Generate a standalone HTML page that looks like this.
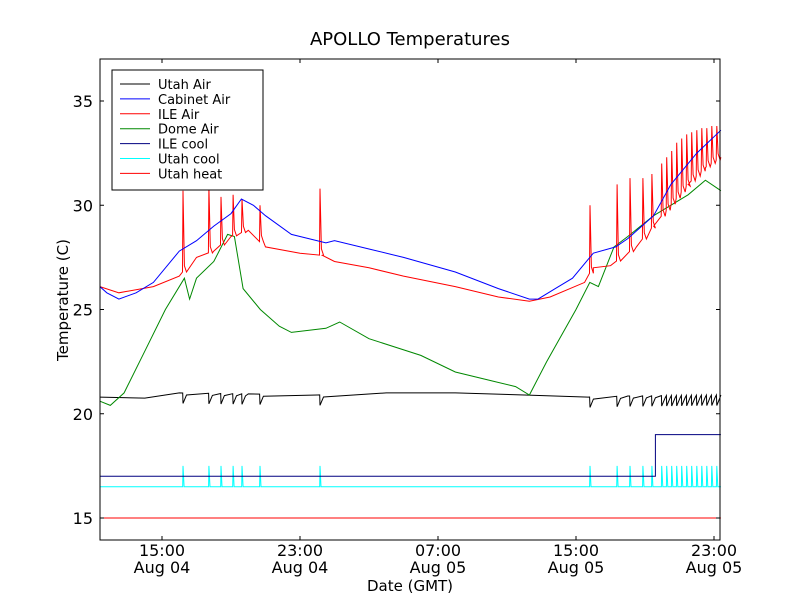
<!DOCTYPE html>
<html><head><meta charset="utf-8"><style>
body{margin:0;background:#fff;font-family:"Liberation Sans","DejaVu Sans",sans-serif}
svg text{font-family:"DejaVu Sans","Liberation Sans",sans-serif}
</style></head><body>
<svg id="c" width="800" height="600" xmlns="http://www.w3.org/2000/svg">
<rect width="800" height="600" fill="#fff"/>
<text x="410" y="45" font-size="18" text-anchor="middle">APOLLO Temperatures</text>
<g id="plot"></g>
<rect x="100" y="59" width="620" height="481" fill="none" stroke="#000"/>
<text x="410" y="591" font-size="15" text-anchor="middle">Date (GMT)</text>
<text transform="translate(68,300) rotate(-90)" font-size="15" text-anchor="middle">Temperature (C)</text>
<g id="legend"></g>
</svg>
<script>
const seriesNames=["Utah Air","Cabinet Air","ILE Air","Dome Air","ILE cool","Utah cool","Utah heat"];
const seriesColors=["#000","#00f","#f00","#080","#000080","#0ff","#f00"];
const yTicks=[15,20,25,30,35];
const xTickHours=[15,23,31,39,47];
const xTickLabels=[["15:00","Aug 04"],["23:00","Aug 04"],["07:00","Aug 05"],["15:00","Aug 05"],["23:00","Aug 05"]];
const cabinetT=[11.4,11.8,12.5,13.5,14.5,16,17,18,19,19.6,20.3,21,22.5,24.5,25,27,29,32,34.5,36.3,36.8,37.8,38.8,40,41.3,42,43.5,44.5,46,47.4];
const cabinetV=[26.1,25.8,25.5,25.8,26.3,27.8,28.3,29,29.6,30.3,30,29.5,28.6,28.2,28.3,27.9,27.5,26.8,26,25.5,25.5,26,26.5,27.7,28,28.4,29.5,31,32.5,33.6];
const ileT=[11.4,12.5,14.5,16,17,18,19,20,21,23,24.3,25,27,29,32,34.5,36.3,37.5,39.5,40,41,42.5,43.5,44.5,45.5,46.5,47.4];
const ileV=[26.1,25.8,26.1,26.6,27.5,27.8,28.5,28.8,28,27.7,27.6,27.3,27,26.6,26.1,25.6,25.4,25.6,26.3,27,27.1,28,29,30,31,31.8,32.3];
const domeT=[11.4,12,12.8,14,15.2,16.3,16.6,17,18,18.8,19.2,19.7,20.7,21.8,22.5,24.5,25.3,27,30,32,34,35.5,36.3,37.3,39,39.8,40.3,41.2,42,43.5,45.5,46.5,47.4];
const domeV=[20.6,20.4,21,23,25,26.5,25.5,26.5,27.3,28.6,28.5,26,25,24.2,23.9,24.1,24.4,23.6,22.8,22,21.6,21.3,20.9,22.5,25,26.3,26.1,28,28.5,29.5,30.5,31.2,30.7];
const utahAirT=[11.4,14,16,20,24,28,32,36,39.7,42,47.4];
const utahAirV=[20.8,20.75,21,20.95,20.9,21,21,20.9,20.8,20.85,20.9];
const ileCoolT=[11.4,43.6,43.6,47.4];
const ileCoolV=[17,17,19,19];
const utahHeatT=[11.4,47.4];
const utahHeatV=[15,15];
const spikeT=[16.22,17.72,18.42,19.12,19.64,20.68,24.16,39.81,41.38,42.13,42.88,43.4,43.97,44.26,44.55,44.84,45.13,45.42,45.71,46.0,46.29,46.58,46.87,47.16];
const spikeIle=[30.7,30.9,30.4,30.5,30.3,30.0,30.8,30.0,31,31.3,31.3,31.5,32,32.3,32.6,33,33.2,33.4,33.5,33.6,33.7,33.7,33.8,33.8];

const X=t=>162+(t-15)*17.25;
const Y=v=>518-(v-15)*20.85;
const interp=(T,V,t)=>{for(let i=0;i<T.length-1;i++){if(t>=T[i]&&t<=T[i+1])return V[i]+(V[i+1]-V[i])*(t-T[i])/(T[i+1]-T[i]);}return t<T[0]?V[0]:V[V.length-1];};
const plot=document.getElementById('plot');
const NS="http://www.w3.org/2000/svg";
function addPath(pts,color,name){
  const p=document.createElementNS(NS,'path');
  p.setAttribute('d','M'+pts.map(q=>X(q[0]).toFixed(1)+','+Y(q[1]).toFixed(1)).join('L'));
  p.setAttribute('fill','none');p.setAttribute('stroke',color);p.setAttribute('stroke-width','1');
  
  
  plot.appendChild(p);
}
function withSpikes(T,V,fn){
  let pts=[];
  let si=0;
  for(let i=0;i<T.length;i++){
    while(si<spikeT.length&&spikeT[si]<T[i]){pts.push(...fn(si));si++;}
    pts.push([T[i],V[i]]);
  }
  return pts;
}
addPath(utahHeatT.map((t,i)=>[t,utahHeatV[i]]),seriesColors[6],'utah-heat-line');
addPath(withSpikes([11.4,47.4],[16.5,16.5],i=>{const t=spikeT[i];return[[t-0.02,16.5],[t,17.5],[t+0.06,16.5]];}),seriesColors[5],'utah-cool-line');
addPath(ileCoolT.map((t,i)=>[t,ileCoolV[i]]),seriesColors[4],'ile-cool-line');
addPath(withSpikes(utahAirT,utahAirV,i=>{const t=spikeT[i];const b=interp(utahAirT,utahAirV,t);return[[t-0.02,b],[t,b-0.5],[t+0.2,b-0.1]];}),seriesColors[0],'utah-air-line');
addPath(domeT.map((t,i)=>[t,domeV[i]]),seriesColors[3],'dome-air-line');
addPath(withSpikes(ileT,ileV,i=>{const t=spikeT[i];const b=interp(ileT,ileV,t);return[[t-0.03,b],[t,spikeIle[i]],[t+0.08,b+0.3],[t+0.2,b]];}),seriesColors[2],'ile-air-line');
addPath(cabinetT.map((t,i)=>[t,cabinetV[i]]),seriesColors[1],'cabinet-air-line');

const svg=document.getElementById('c');
yTicks.forEach(v=>{
  const y=Y(v);
  const g=document.createElementNS(NS,'g');
  
  
  g.innerHTML=`<line x1="100" x2="104" y1="${y}" y2="${y}" stroke="#000"/><line x1="716" x2="720" y1="${y}" y2="${y}" stroke="#000"/><text x="93" y="${y+6}" font-size="16" text-anchor="end">${v}</text>`;
  svg.appendChild(g);
});
xTickHours.forEach((h,i)=>{
  const x=X(h);
  const g=document.createElementNS(NS,'g');
  
  
  g.innerHTML=`<line x1="${x}" x2="${x}" y1="540" y2="536" stroke="#000"/><line x1="${x}" x2="${x}" y1="59" y2="63" stroke="#000"/><text x="${x}" y="556" font-size="16" text-anchor="middle">${xTickLabels[i][0]}</text><text x="${x}" y="573" font-size="16" text-anchor="middle">${xTickLabels[i][1]}</text>`;
  svg.appendChild(g);
});
const lg=document.getElementById('legend');
let h=`<rect x="112" y="70" width="151" height="120" fill="#fff" stroke="#000"/>`;
seriesNames.forEach((n,i)=>{const y=84+i*14.9;h+=`<g><line x1="120" x2="150" y1="${y}" y2="${y}" stroke="${seriesColors[i]}"/><text x="158" y="${y+5}" font-size="13">${n}</text></g>`;});
lg.innerHTML=h;
</script>
</body></html>
